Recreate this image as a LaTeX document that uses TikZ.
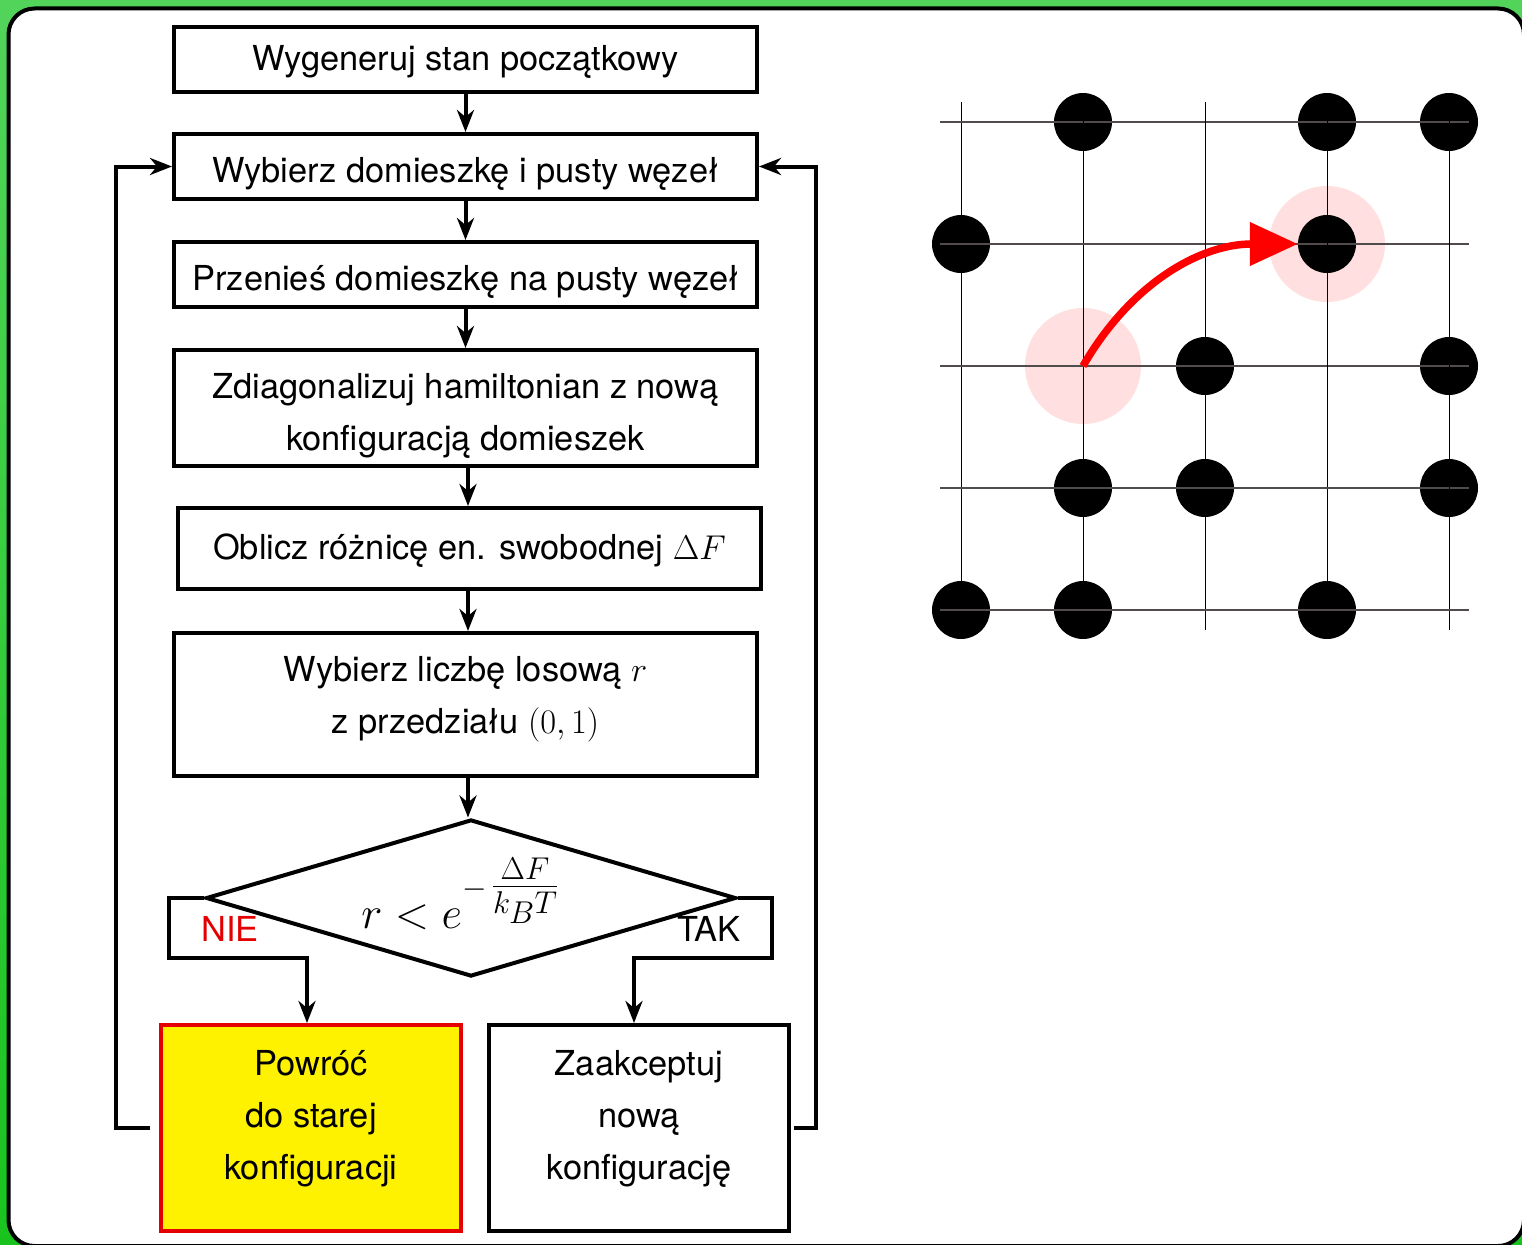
\RequirePackage{fix-cm}
\documentclass[tikz,border=0pt]{standalone}
\usepackage[no-math]{fontspec}
\setmainfont{TeX Gyre Heros}
\usetikzlibrary{shapes.geometric,arrows.meta,calc}

\definecolor{frametop}{RGB}{82,212,90}
\definecolor{framebot}{RGB}{25,195,30}
\definecolor{boxred}{RGB}{228,0,0}
\definecolor{halo}{RGB}{255,223,223}
\definecolor{gridline}{RGB}{80,76,76}

% shift a line of text vertically inside its box, keeping the box size
\newcommand{\lowered}[2]{\raisebox{#1}[\height][\depth]{#2}}

\begin{document}
\begin{tikzpicture}[x=1pt,y=-1pt,
  every node/.style={font=\fontsize{34.4}{52}\selectfont},
  stepbox/.style={draw,line width=4pt,minimum width=583pt,align=center,inner sep=0pt},
  endbox/.style={draw,line width=4pt,minimum width=300pt,minimum height=206pt,align=center,inner sep=0pt},
  conn/.style={line width=4pt,-{Stealth[length=22pt,width=17pt,inset=7pt]}},
  site/.style={circle,fill=black,minimum size=58pt,inner sep=0pt},
  hop/.style={red,line width=7.5pt,-{Triangle[length=48pt,width=42pt]}}
]
\useasboundingbox (0,0) rectangle (1522,1244);

% frame
\shade[top color=frametop,middle color=white,bottom color=framebot] (0,0) rectangle (1522,1244);
\draw[line width=4pt,fill=white,rounded corners=26pt] (8.5,8.5) rectangle (1524,1246);

% flowchart
\node[stepbox,minimum height=65pt] (b1) at (465.5,59.5) {\lowered{-2pt}{Wygeneruj stan początkowy}};
\node[stepbox,minimum height=65pt] (b2) at (465.5,166.5) {\lowered{-7pt}{Wybierz domieszkę i pusty węzeł}};
\node[stepbox,minimum height=65pt] (b3) at (465.5,274.5) {\lowered{-7pt}{Przenieś domieszkę na pusty węzeł}};
\node[stepbox,minimum height=116pt] (b4) at (465.5,408)
  {\lowered{-8pt}{Zdiagonalizuj hamiltonian z nową}\\\lowered{-8pt}{konfiguracją domieszek}};
\node[stepbox,minimum height=81pt] (b5) at (469.5,548.5) {\lowered{-2pt}{Oblicz różnicę en. swobodnej $\Delta F$}};
\node[stepbox,minimum height=143pt] (b6) at (465.5,704.5)
  {\lowered{5pt}{Wybierz liczbę losową $r$}\\\lowered{5pt}{z przedziału $(0,1)$}};
\node[draw,diamond,aspect=3.3,line width=4pt,inner sep=0pt,minimum width=530pt,minimum height=157pt,
  font=\fontsize{45}{54}\selectfont]
  (d) at (471,898)
  {\hspace*{-22pt}\lowered{4pt}{$r < e^{-\,\textstyle\frac{\Delta F}{k_{\scriptstyle B}T}}$}};
\node[text=boxred] (nielab) at (230,929) {NIE};
\node (taklab) at (709,929) {TAK};
\node[endbox,draw=boxred,fill=yellow] (nie) at (311,1128)
  {\lowered{9pt}{Powróć}\\\lowered{9pt}{do starej}\\\lowered{9pt}{konfiguracji}};
\node[endbox] (tak) at (639,1128)
  {\lowered{9pt}{Zaakceptuj}\\\lowered{9pt}{nową}\\\lowered{9pt}{konfigurację}};

\coordinate (nieleft) at (169,958);
\coordinate (nieturn) at (307,958);
\coordinate (takright) at (772,958);
\coordinate (takturn) at (634,958);
\coordinate (loopl) at (116,1128);
\coordinate (loopr) at (816,1128);

\draw[conn] (b1) -- (b2);
\draw[conn] (b2) -- (b3);
\draw[conn] (b3) -- (b4);
\draw[conn] (b4.south -| 468,0) -- (b5.north -| 468,0);
\draw[conn] (b5.south -| 468,0) -- (b6.north -| 468,0);
\draw[conn] (b6.south -| 468,0) -- (d.north -| 468,0);
\draw[conn] (d.west) -| (nieleft) -- (nieturn) -- (nieturn |- nie.north);
\draw[conn] (d.east) -| (takright) -- (takturn) -- (takturn |- tak.north);
\draw[conn,shorten <=9pt] (nie.west) -- (loopl) |- (b2.west);
\draw[conn,shorten <=3pt] (tak.east) -- (loopr) |- (b2.east);

% lattice
\fill[halo] (1083,366) circle[radius=58];
\fill[halo] (1327,244) circle[radius=58];
\coordinate (src) at (1083,366);
\foreach \c/\r in {1/0,3/0,4/0,0/1,2/2,4/2,1/3,2/3,4/3,0/4,1/4,3/4}
  \fill (961+122*\c,122+122*\r) circle[radius=29];
\node[site] (dst) at (1327,244) {};
\foreach \i in {0,...,4} {
  \draw[black,line width=1pt] (961+122*\i,102) -- (961+122*\i,630);
  \draw[gridline,line width=1.5pt] (940,122+122*\i) -- (1469,122+122*\i);
}
\draw[hop] (src) to[out=60,in=180] (dst.west);
\end{tikzpicture}
\end{document}
